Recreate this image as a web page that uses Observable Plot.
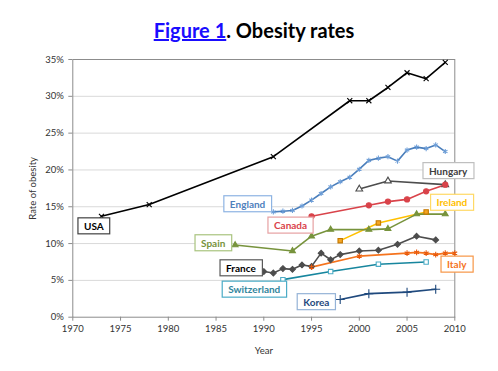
<!DOCTYPE html>
<html><head><meta charset="utf-8">
<script src="https://cdn.jsdelivr.net/npm/d3@7"></script>
<script src="https://cdn.jsdelivr.net/npm/@observablehq/plot@0.6"></script>
<style>
body{margin:0;background:#fff;font-family:Lato,sans-serif;}
#title{height:45px;box-sizing:border-box;padding-top:20px;padding-left:10px;text-align:center;font-weight:bold;font-size:20px;line-height:1;color:#000;white-space:nowrap;}
#title a{color:#1a0dff;text-decoration:underline;}
#chart svg{display:block;overflow:visible;}
</style></head><body>
<div id="title"><a href="#">Figure 1</a>. Obesity rates</div>
<div id="chart"></div>
<script>
// ---- data (year, % obese) ----
const USA = [[1973,13.7],[1978,15.3],[1991,21.8],[1999,29.4],[2001,29.4],[2003,31.2],[2005,33.2],[2007,32.4],[2009,34.6]];
const England = [[1991,14.3],[1992,14.4],[1993,14.5],[1994,15.1],[1995,15.9],[1996,16.8],[1997,17.7],[1998,18.4],[1999,19.0],[2000,20.1],[2001,21.3],[2002,21.6],[2003,21.8],[2004,21.2],[2005,22.7],[2006,23.1],[2007,22.9],[2008,23.4],[2009,22.5]];
const Hungary = [[2000,17.4],[2003,18.5],[2009,18.0]];
const Canada = [[1995,13.7],[2001,15.2],[2003,15.7],[2005,16.0],[2007,17.1],[2009,18.0]];
const Ireland = [[1998,10.4],[2002,12.8],[2007,14.3]];
const Spain = [[1987,9.8],[1993,9.0],[1995,11.0],[1997,11.9],[2001,11.9],[2003,12.0],[2006,14.0],[2009,14.0]];
const France = [[1990,6.2],[1991,6.0],[1992,6.6],[1993,6.5],[1994,7.1],[1995,6.9],[1996,8.7],[1997,7.8],[1998,8.5],[2000,9.0],[2002,9.1],[2004,9.9],[2006,11.0],[2008,10.5]];
const Italy = [[1995,6.8],[2000,8.3],[2005,8.7],[2006,8.8],[2007,8.7],[2008,8.5],[2009,8.7],[2010,8.7]];
const Switzerland = [[1992,5.1],[1997,6.2],[2002,7.2],[2007,7.5]];
const Korea = [[1998,2.4],[2001,3.2],[2005,3.4],[2008,3.8]];

const countries = ["USA","England","Hungary","Canada","Ireland","Spain","France","Italy","Switzerland","Korea"];
const seriesData = [USA,England,Hungary,Canada,Ireland,Spain,France,Italy,Switzerland,Korea];
// label anchor (year, %) for each country's boxed label
const labelYears = [1972.2,1988.3,2009.3,1992.8,2009.7,1984.7,1987.6,2010.2,1989.0,1995.5];
const labelRates = [12.3,15.3,19.8,12.4,15.5,10.0,6.6,7.1,3.7,2.0];

const xTicks = [1970,1975,1980,1985,1990,1995,2000,2005,2010];
const yTicks = [0,5,10,15,20,25,30,35];

// ---- styles ----
const styles = {
  USA:        {line:"#000000", symbol:"times",    mFill:"none",    mStroke:"#000000", r:2.4, text:"#000000", box:"#404040"},
  England:    {line:"#4a7ebb", symbol:"asterisk", mFill:"none",    mStroke:"#6f9fd8", r:2.4, text:"#4f81bd", box:"#8eb4e3"},
  Hungary:    {line:"#4d4d4d", symbol:"triangle2",mFill:"#ffffff", mStroke:"#4d4d4d", r:3.2, text:"#404040", box:"#bfbfbf"},
  Canada:     {line:"#d9434a", symbol:"circle",   mFill:"#d9434a", mStroke:"#d9434a", r:2.6, text:"#d9434a", box:"#e6a0a2"},
  Ireland:    {line:"#ffc000", symbol:"square2",  mFill:"#f5a623", mStroke:"#c47800", r:2.8, text:"#ffc000", box:"#ffd966"},
  Spain:      {line:"#77933c", symbol:"triangle2",mFill:"#77933c", mStroke:"#77933c", r:2.8, text:"#77933c", box:"#a9c47f"},
  France:     {line:"#4d4d4d", symbol:"diamond2", mFill:"#4d4d4d", mStroke:"#4d4d4d", r:2.6, text:"#000000", box:"#595959"},
  Italy:      {line:"#f5731d", symbol:"asterisk", mFill:"none",    mStroke:"#e8590c", r:2.6, text:"#f5731d", box:"#f79646"},
  Switzerland:{line:"#17869e", symbol:"square2",  mFill:"#ffffff", mStroke:"#4bacc6", r:2.8, text:"#31859c", box:"#4bacc6"},
  Korea:      {line:"#1f497d", symbol:"plus",     mFill:"none",    mStroke:"#1f497d", r:3,   text:"#1f497d", box:"#95b3d7"}
};

const seriesMarks = [];
countries.forEach((c,i)=>{
  const s = styles[c];
  const rows = seriesData[i].map(([year,rate])=>({year,rate}));
  seriesMarks.push(Plot.line(rows,{x:"year",y:"rate",stroke:s.line,strokeWidth:1.6}));
});
countries.forEach((c,i)=>{
  const s = styles[c];
  const rows = seriesData[i].map(([year,rate])=>({year,rate}));
  seriesMarks.push(Plot.dot(rows,{x:"year",y:"rate",symbol:s.symbol,r:s.r,fill:s.mFill,stroke:s.mStroke,strokeWidth:1.1}));
});

const labels = countries.map((c,i)=>({country:c,year:labelYears[i],rate:labelRates[i]}));

const chart = Plot.plot({
  width: 498, height: 326,
  marginTop: 14, marginRight: 43.7, marginBottom: 54.3, marginLeft: 72.3,
  style:{fontFamily:"Lato, sans-serif",fontSize:"9.5px",color:"#333",background:"#fff",overflow:"visible"},
  x:{domain:[1970,2010]},
  y:{domain:[0,35]},
  marks:[
    Plot.ruleY(yTicks.filter(d=>d>0 && d<35),{stroke:"#d9d9d9",strokeWidth:1}),
    Plot.frame({stroke:"#8c8c8c"}),
    Plot.axisY({ticks:yTicks,tickFormat:d=>d+"%",tickSize:4,tickPadding:5,stroke:"#8c8c8c",
      label:"Rate of obesity",labelAnchor:"center",labelOffset:44,labelArrow:false}),
    Plot.axisX({ticks:xTicks,tickFormat:d=>String(d),tickSize:4,tickPadding:4,stroke:"#8c8c8c",
      label:"Year",labelAnchor:"center",labelOffset:37,labelArrow:false}),
    ...seriesMarks,
    Plot.text(labels,{x:"year",y:"rate",text:"country",fill:d=>styles[d.country].text,
      fontWeight:"bold",fontSize:10,textAnchor:"middle",lineAnchor:"middle",clip:false})
  ]
});
document.getElementById("chart").append(chart);

// white boxes with coloured borders behind the labels
const names = new Set(countries);
chart.querySelectorAll("text").forEach(t=>{
  const name = t.textContent.trim();
  if (!names.has(name)) return;
  const b = t.getBBox();
  const r = document.createElementNS("http://www.w3.org/2000/svg","rect");
  r.setAttribute("x", b.x - 6);
  r.setAttribute("y", b.y - 2);
  r.setAttribute("width", b.width + 12);
  r.setAttribute("height", b.height + 4);
  r.setAttribute("fill","#ffffff");
  r.setAttribute("stroke", styles[name].box);
  r.setAttribute("stroke-width", 1.2);
  if (t.getAttribute("transform")) r.setAttribute("transform", t.getAttribute("transform"));
  t.parentNode.insertBefore(r, t);
});
</script></body></html>
